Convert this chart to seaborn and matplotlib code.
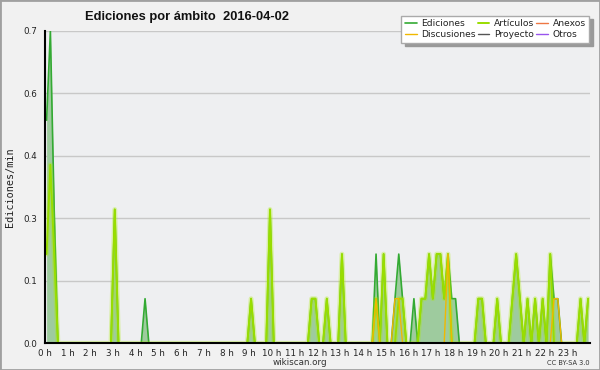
import numpy as np
import pandas as pd
import matplotlib
matplotlib.use("Agg")
import matplotlib.pyplot as plt
import matplotlib.ticker as mticker
from matplotlib.patches import Rectangle
import seaborn as sns

# edits per minute, one value per 10-minute bin (6 bins per hour, 2 hours per row)
ediciones = [
    0.5, 0.7, 0.3, 0, 0, 0, 0, 0, 0, 0, 0, 0,
    0, 0, 0, 0, 0, 0, 0.3, 0, 0, 0, 0, 0,
    0, 0, 0.1, 0, 0, 0, 0, 0, 0, 0, 0, 0,
    0, 0, 0, 0, 0, 0, 0, 0, 0, 0, 0, 0,
    0, 0, 0, 0, 0, 0, 0.1, 0, 0, 0, 0, 0.3,
    0, 0, 0, 0, 0, 0, 0, 0, 0, 0, 0.1, 0.1,
    0, 0, 0.1, 0, 0, 0, 0.2, 0, 0, 0, 0, 0,
    0, 0, 0, 0.2, 0, 0.2, 0, 0, 0.1, 0.2, 0.1, 0,
    0, 0.1, 0, 0.1, 0.1, 0.2, 0.1, 0.2, 0.2, 0.1, 0.2, 0.1,
    0.1, 0, 0, 0, 0, 0, 0.1, 0.1, 0, 0, 0, 0.1,
    0, 0, 0, 0.1, 0.2, 0.1, 0, 0.1, 0, 0.1, 0, 0.1,
    0, 0.2, 0.1, 0.1, 0, 0, 0, 0, 0, 0.1, 0, 0.1,
]
articulos = [
    0.2, 0.4, 0.2, 0, 0, 0, 0, 0, 0, 0, 0, 0,
    0, 0, 0, 0, 0, 0, 0.3, 0, 0, 0, 0, 0,
    0, 0, 0, 0, 0, 0, 0, 0, 0, 0, 0, 0,
    0, 0, 0, 0, 0, 0, 0, 0, 0, 0, 0, 0,
    0, 0, 0, 0, 0, 0, 0.1, 0, 0, 0, 0, 0.3,
    0, 0, 0, 0, 0, 0, 0, 0, 0, 0, 0.1, 0.1,
    0, 0, 0.1, 0, 0, 0, 0.2, 0, 0, 0, 0, 0,
    0, 0, 0, 0.1, 0, 0.2, 0, 0, 0, 0.1, 0.1, 0,
    0, 0, 0, 0.1, 0.1, 0.2, 0.1, 0.2, 0.2, 0.1, 0.2, 0,
    0, 0, 0, 0, 0, 0, 0.1, 0.1, 0, 0, 0, 0.1,
    0, 0, 0, 0.1, 0.2, 0.1, 0, 0.1, 0, 0.1, 0, 0.1,
    0, 0.2, 0, 0, 0, 0, 0, 0, 0, 0.1, 0, 0.1,
]
discusiones = [
    0, 0, 0, 0, 0, 0, 0, 0, 0, 0, 0, 0,
    0, 0, 0, 0, 0, 0, 0, 0, 0, 0, 0, 0,
    0, 0, 0, 0, 0, 0, 0, 0, 0, 0, 0, 0,
    0, 0, 0, 0, 0, 0, 0, 0, 0, 0, 0, 0,
    0, 0, 0, 0, 0, 0, 0, 0, 0, 0, 0, 0,
    0, 0, 0, 0, 0, 0, 0, 0, 0, 0, 0, 0,
    0, 0, 0, 0, 0, 0, 0, 0, 0, 0, 0, 0,
    0, 0, 0, 0.1, 0, 0, 0, 0, 0.1, 0.1, 0, 0,
    0, 0, 0, 0, 0, 0, 0, 0, 0, 0, 0.2, 0,
    0, 0, 0, 0, 0, 0, 0, 0, 0, 0, 0, 0,
    0, 0, 0, 0, 0, 0, 0, 0, 0, 0, 0, 0,
    0, 0, 0.1, 0.1, 0, 0, 0, 0, 0, 0, 0, 0,
]
anexos = [0.0] * 144
proyecto = [0.0] * 144
otros = [0.0] * 144

hour_labels = [f"{h} h" for h in range(24)] + [""]
y_ticks = [0, 0.14, 0.28, 0.42, 0.56, 0.70]

# bins plotted at their centre, in hours
t = (np.arange(144) + 0.5) / 6
df = pd.DataFrame({"t": t, "Ediciones": ediciones, "Artículos": articulos,
                   "Discusiones": discusiones, "Anexos": anexos,
                   "Proyecto": proyecto, "Otros": otros})

sns.set_theme(style="white")
plt.rcParams["font.family"] = ["DejaVu Sans"]

fig = plt.figure(figsize=(6, 3.7), dpi=100, facecolor="#f1f1f1")
ax = fig.add_axes([44.7 / 600, 26.7 / 370, 545.3 / 600, 312.3 / 370])
ax.set_facecolor("#eeeff1")

ax.fill_between(df["t"], df["Ediciones"], color="#9ecb9e", lw=0, zorder=1)
for name, col in [("Anexos", "#ee7744"), ("Proyecto", "#555555"), ("Otros", "#9955ee")]:
    sns.lineplot(data=df, x="t", y=name, ax=ax, color=col, lw=1, label=name, zorder=1.5)
sns.lineplot(data=df, x="t", y="Ediciones", ax=ax, color="#33aa33", lw=1.2,
             label="Ediciones", zorder=2)
# soft glow under the lime line
ax.plot(df["t"], df["Artículos"], color="#aaee00", lw=3.5, alpha=0.3, zorder=2.1)
sns.lineplot(data=df, x="t", y="Artículos", ax=ax, color="#99dd00", lw=1.4,
             label="Artículos", zorder=2.2)
sns.lineplot(data=df, x="t", y="Discusiones", ax=ax, color="#f0b800", lw=1,
             label="Discusiones", zorder=2.3)

ax.set_xlim(0, 24)
ax.set_ylim(0, 0.7)
ax.set_xticks(range(25))
ax.set_xticklabels(hour_labels)
ax.xaxis.set_minor_locator(mticker.MultipleLocator(1 / 6))
ax.set_yticks(y_ticks)
ax.yaxis.set_major_formatter(mticker.FormatStrFormatter("%.1f"))
ax.yaxis.set_minor_locator(mticker.MultipleLocator(0.035))
ax.tick_params(axis="both", which="both", direction="out", color="black",
               labelsize=6.3, labelcolor="#222222", pad=0.5)
ax.tick_params(axis="x", which="both", length=3.5, width=1)
ax.tick_params(axis="y", which="major", length=5, width=1)
ax.tick_params(axis="y", which="minor", length=3, width=1)
ax.yaxis.grid(True, color="#c8c8c8", lw=1)
ax.set_axisbelow(True)
for s in ["top", "right"]:
    ax.spines[s].set_visible(False)
for s in ["left", "bottom"]:
    ax.spines[s].set_color("black")
    ax.spines[s].set_linewidth(1.5)
    ax.spines[s].set_zorder(3)
ax.set_xlabel("")
ax.set_ylabel("")

ax.get_legend().remove()
handles, labels = ax.get_legend_handles_labels()
order = ["Ediciones", "Discusiones", "Artículos", "Proyecto", "Anexos", "Otros"]
hmap = dict(zip(labels, handles))
fig.legend([hmap[k] for k in order], order, ncol=3, loc="upper right",
           bbox_to_anchor=(594 / 600, 1 - 11 / 370), frameon=True, fancybox=False,
           edgecolor="#aaaaaa", facecolor="white", framealpha=1, fontsize=6.6,
           handlelength=1.3, handletextpad=0.5, columnspacing=0.2,
           labelspacing=0.2, borderpad=0.4, labelcolor="#222222",
           shadow={"ox": 2.5, "oy": -2.5, "color": "#999999", "alpha": 1})

fig.text(85 / 600, 1 - 20 / 370, "Ediciones por ámbito  2016-04-02", fontsize=9.3,
         fontweight="bold", color="#111111", ha="left", va="baseline",
         family="Liberation Sans")
fig.text(10 / 600, 1 - 187 / 370, "Ediciones/min", family="DejaVu Sans Mono",
         fontsize=7.3, color="#222222", rotation=90, ha="center", va="center")
fig.text(300 / 600, 1 - 365 / 370, "wikiscan.org", fontsize=6.3, color="#333333",
         ha="center", va="baseline")
fig.text(590 / 600, 1 - 365 / 370, "CC BY-SA 3.0", fontsize=4.8, color="#333333",
         ha="right", va="baseline")
fig.patches.append(Rectangle((0, 0), 1, 1, transform=fig.transFigure, fill=False,
                             edgecolor="#a0a0a0", lw=2))

fig.savefig("out.png", dpi=100, facecolor=fig.get_facecolor())
